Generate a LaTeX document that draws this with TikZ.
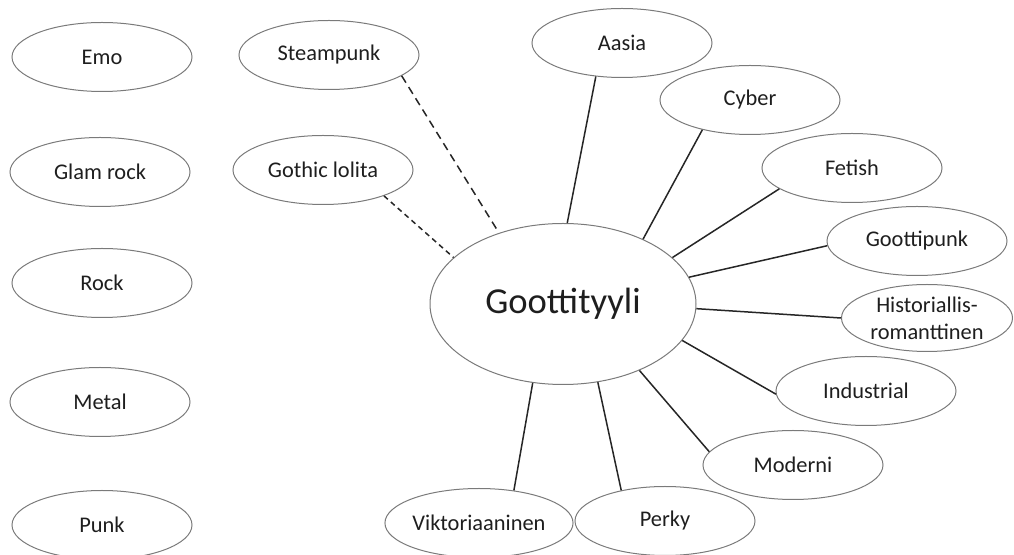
\documentclass[tikz,border=0pt]{standalone}
\usepackage{fontspec}
\setmainfont{Carlito}
\usepackage{xcolor}
\usetikzlibrary{shapes.geometric}

\definecolor{reuna}{HTML}{7A7A7A}
\definecolor{teksti}{HTML}{1E1E1E}

\tikzset{
    tyyli/.style={ellipse, draw=reuna, line width=0.5pt, inner sep=0pt,
        minimum width=90pt, minimum height=34.5pt, text=teksti,
        font=\fontsize{11.2}{13.5}\selectfont, align=center},
    paa/.style={tyyli, minimum width=133pt, minimum height=80.5pt,
        font=\fontsize{18.3}{20}\selectfont},
    yhteys/.style={line width=0.75pt, black!85},
    katko/.style={yhteys, dash pattern=on 4pt off 2.6pt},
    tiheakatko/.style={yhteys, dash pattern=on 2.6pt off 2pt}
}

\begin{document}
\begin{tikzpicture}[x=0.5pt, y=-0.5pt]
    \useasboundingbox (0,0) rectangle (1014,555);

    \node[tyyli] (emo) at (102,57) {Emo};
    \node[tyyli] (glam) at (100,172) {Glam rock};
    \node[tyyli] (rock) at (102,283) {Rock};
    \node[tyyli] (metal) at (100,402) {Metal};
    \node[tyyli] (punk) at (102,525) {Punk};

    \node[tyyli] (steam) at (329,55) {Steampunk};
    \node[tyyli] (lolita) at (323,170) {Gothic lolita};

    \node[paa] (goth) at (563,304) {Goottityyli};

    \node[tyyli] (aasia) at (622,43) {Aasia};
    \node[tyyli] (cyber) at (750,100) {Cyber};
    \node[tyyli] (fetish) at (852,168) {Fetish};
    \node[tyyli] (gpunk) at (917,241) {Goottipunk};
    \node[tyyli, minimum width=85.5pt, minimum height=33.5pt] (histrom) at (927,318) {Historiallis-\\romanttinen};
    \node[tyyli] (indus) at (866,391) {Industrial};
    \node[tyyli] (moderni) at (793,465) {Moderni};
    \node[tyyli] (perky) at (665,521) {Perky};
    \node[tyyli, minimum width=92pt] (vikt) at (479,523) {Viktoriaaninen};

    \draw[katko] (steam.344) -- (goth.132);
    \draw[tiheakatko] (lolita.337) -- (goth.157);

    \draw[yhteys] (aasia.232) -- (goth.87);
    \draw[yhteys] (cyber.212) -- (goth.39);
    \draw[yhteys] (fetish.196) -- (goth.23);
    \draw[yhteys] (gpunk.183) -- (goth.12);
    \draw[yhteys] (histrom.180) -- (goth.-2);
    \draw[yhteys] (indus.182) -- (goth.-17);
    \draw[yhteys] (moderni.171) -- (goth.-41);
    \draw[yhteys] (perky.145) -- (goth.-66);
    \draw[yhteys] (vikt.43) -- (goth.-111);
\end{tikzpicture}
\end{document}
